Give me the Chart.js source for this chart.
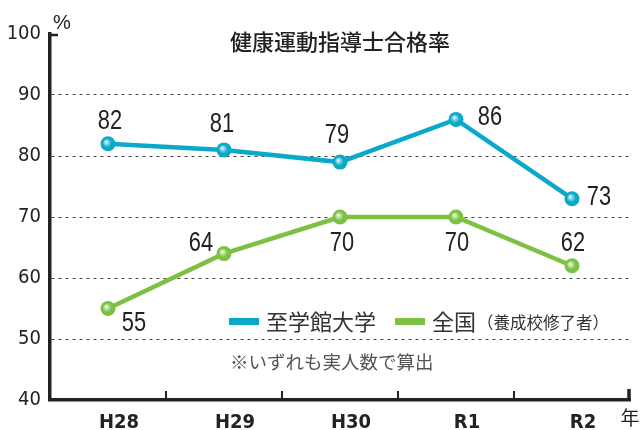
<!DOCTYPE html>
<html lang="ja">
<head>
  <meta charset="UTF-8" />
  <title>健康運動指導士合格率</title>
  <style>
    body { margin: 0; background: #ffffff; }
    #wrap { width: 642px; height: 430px; position: relative; }
  </style>
  <script src="https://cdn.jsdelivr.net/npm/chart.js"></script>
</head>
<body>
  <div id="wrap"><canvas id="passChart" width="642" height="430"></canvas></div>

  <script>
    // data
    const years = ['H28', 'H29', 'H30', 'R1', 'R2'];
    const shigakukan = [82, 81, 79, 86, 73];
    const national = [55, 64, 70, 70, 62];
    const yTicks = [40, 50, 60, 70, 80, 90, 100];

    const BLUE = '#0aa9c9';
    const GREEN = '#7cc142';
    const NUM_FONT = "'DejaVu Sans Condensed', 'DejaVu Sans', sans-serif";
    const JP_FONT = "'Noto Sans CJK JP', sans-serif";

    // where each value label sits relative to its point (dx, dy)
    const labelPos = [
      [[2, -24], [-2, -27], [-3, -28], [34, -3], [27, -2]],
      [[26, 14], [-23, -11], [2, 25], [1, 25], [1, -24]]
    ];

    const decorPlugin = {
      id: 'decor',
      afterDatasetsDraw(chart) {
        const c = chart.ctx;
        const area = chart.chartArea;
        const x = chart.scales.x;

        // glossy points
        chart.data.datasets.forEach((ds, di) => {
          const meta = chart.getDatasetMeta(di);
          const light = di === 0 ? '#eefcff' : '#f6ffec';
          meta.data.forEach(pt => {
            const g = c.createRadialGradient(pt.x - 2, pt.y - 2, 0, pt.x, pt.y, 7.5);
            g.addColorStop(0, light);
            g.addColorStop(0.6, ds.borderColor);
            g.addColorStop(1, ds.borderColor);
            c.beginPath();
            c.arc(pt.x, pt.y, 7.5, 0, Math.PI * 2);
            c.fillStyle = g;
            c.fill();
          });
        });

        // value labels, narrowed to look condensed
        c.save();
        c.font = "28px 'Liberation Sans', Arial, sans-serif";
        c.fillStyle = '#222';
        c.textAlign = 'center';
        c.textBaseline = 'middle';
        chart.data.datasets.forEach((ds, di) => {
          const meta = chart.getDatasetMeta(di);
          meta.data.forEach((pt, i) => {
            const off = labelPos[di][i];
            c.save();
            c.translate(pt.x + off[0], pt.y + off[1] + 1);
            c.scale(0.78, 1);
            c.fillText(String(ds.data[i]), 0, 0);
            c.restore();
          });
        });
        c.restore();

        // inward ticks on x axis
        c.save();
        c.strokeStyle = '#222';
        c.lineWidth = 2;
        for (let i = 0; i < years.length - 1; i++) {
          const bx = (x.getPixelForValue(i) + x.getPixelForValue(i + 1)) / 2;
          c.beginPath();
          c.moveTo(bx, area.bottom);
          c.lineTo(bx, area.bottom - 9);
          c.stroke();
        }
        c.lineWidth = 3.5;
        c.beginPath();
        c.moveTo(area.right - 1, area.bottom + 1);
        c.lineTo(area.right - 1, area.bottom - 11);
        c.stroke();
        // small cap at top of y axis
        c.lineWidth = 2.5;
        c.beginPath();
        c.moveTo(area.left, area.top + 1);
        c.lineTo(area.left + 8, area.top + 1);
        c.stroke();
        c.restore();

        // title, units, legend, note
        c.save();
        c.textBaseline = 'middle';
        c.fillStyle = '#222';
        c.textAlign = 'center';
        c.font = '500 22px ' + JP_FONT;
        c.fillText('健康運動指導士合格率', 340, 42);
        c.font = "20px 'Liberation Sans', sans-serif";
        c.fillText('%', 62, 23);
        c.font = '19px ' + JP_FONT;
        c.fillText('年', 630, 418);

        c.textAlign = 'left';
        c.fillStyle = BLUE;
        c.fillRect(229, 318, 30, 7);
        c.fillStyle = GREEN;
        c.fillRect(395, 318, 30, 7);
        c.fillStyle = '#333';
        c.font = '22px ' + JP_FONT;
        c.fillText('至学館大学', 266, 322);
        c.fillText('全国', 432, 322);
        c.font = '16.5px ' + JP_FONT;
        c.fillText('（養成校修了者）', 477, 323);
        c.fillStyle = '#555';
        c.font = '18.5px ' + JP_FONT;
        c.fillText('※いずれも実人数で算出', 230, 362);
        c.restore();
      }
    };

    new Chart(document.getElementById('passChart'), {
      type: 'line',
      data: {
        labels: years,
        datasets: [
          {
            label: '至学館大学',
            data: shigakukan,
            borderColor: BLUE,
            backgroundColor: BLUE,
            borderWidth: 4.5,
            pointRadius: 0,
            tension: 0
          },
          {
            label: '全国（養成校修了者）',
            data: national,
            borderColor: GREEN,
            backgroundColor: GREEN,
            borderWidth: 4.5,
            pointRadius: 0,
            tension: 0
          }
        ]
      },
      options: {
        responsive: false,
        animation: false,
        events: [],
        layout: { padding: { top: 34, right: 12, left: 0, bottom: 0 } },
        plugins: {
          legend: { display: false },
          title: { display: false },
          tooltip: { enabled: false }
        },
        scales: {
          x: {
            offset: true,
            afterFit(scale) { scale.height = 30; },
            grid: { display: false },
            border: { display: true, color: '#222', width: 3.5 },
            ticks: {
              color: '#222',
              padding: 3,
              labelOffset: 11,
              font: { family: NUM_FONT, size: 20, weight: 'bold' }
            }
          },
          y: {
            min: 40,
            max: 100,
            afterFit(scale) { scale.width = 50; },
            afterBuildTicks(scale) { scale.ticks = yTicks.map(v => ({ value: v })); },
            grid: {
              drawTicks: false,
              lineWidth: 1,
              color: ctx => (ctx.tick && ctx.tick.value > 40 && ctx.tick.value < 100) ? '#444' : 'rgba(0,0,0,0)'
            },
            border: { display: true, color: '#222', width: 3.5, dash: [3, 4] },
            ticks: {
              color: '#222',
              padding: 9,
              font: { family: NUM_FONT, size: 20 }
            }
          }
        }
      },
      plugins: [decorPlugin]
    });
  </script>
</body>
</html>
